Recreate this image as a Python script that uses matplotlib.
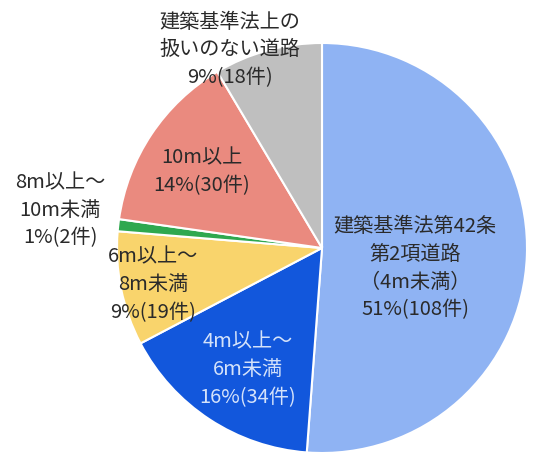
import matplotlib
matplotlib.use("Agg")
import matplotlib.pyplot as plt

plt.rcParams['font.family'] = ['Noto Sans CJK JP', 'DejaVu Sans']

categories = ["建築基準法第42条\n第2項道路\n（4m未満）", "4m以上～\n6m未満", "6m以上～\n8m未満",
              "8m以上～\n10m未満", "10m以上", "建築基準法上の\n扱いのない道路"]
counts = [108, 34, 19, 2, 30, 18]
percents = [51, 16, 9, 1, 14, 9]
colors = ["#8FB3F3", "#1257DC", "#F9D46C", "#2FA84F", "#EA8A7F", "#BFBFBF"]
text_colors = ["#2a2a2a", "#D4E2FA", "#2a2a2a", "#2a2a2a", "#2a2a2a", "#2a2a2a"]

# label layout positions (axes data units, pie radius = 1)
label_pos = [(0.454, -0.10), (-0.361, -0.595), (-0.824, -0.18),
             (-1.278, 0.185), (-0.585, 0.37), (-0.449, 0.966)]

fig = plt.figure(figsize=(5.37, 4.53), dpi=100)
ax = fig.add_axes([117/537, 0, 410/537, 410/453])
ax.pie(counts, colors=colors, startangle=90, counterclock=False,
       wedgeprops=dict(edgecolor="white", linewidth=1.5), radius=1)
ax.set_xlim(-1, 1)
ax.set_ylim(-1, 1)

for cat, p, n, (x, y), tc in zip(categories, percents, counts, label_pos, text_colors):
    ax.text(x, y, f"{cat}\n{p}%({n}件)", ha="center", va="center", fontsize=14.5,
            color=tc, linespacing=1.42)

fig.savefig("out.png", dpi=100)
